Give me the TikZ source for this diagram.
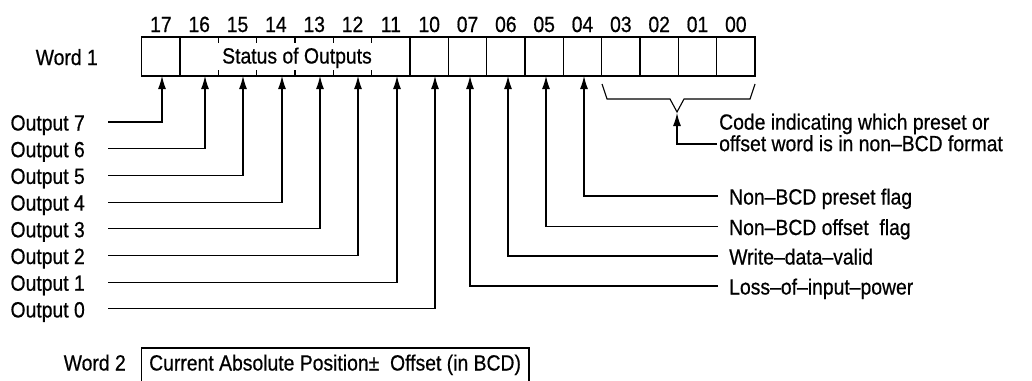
\documentclass[tikz,border=0pt]{standalone}
\usepackage{fontspec}
\setmainfont{Liberation Sans}[FakeStretch=0.88,FakeBold=0.6]
\usetikzlibrary{arrows.meta}

\tikzset{
  lbl/.style={inner sep=0pt, text height=17pt, text depth=0pt,
    font=\fontsize{22}{24}\selectfont},
  trait/.style={line width=1.1pt},
  fleche/.style={line width=1.1pt, -{Latex[length=13pt,width=8pt]}}
}

\begin{document}
\begin{tikzpicture}[x=1pt,y=-1pt]
\clip (0,0) rectangle (1032,380);

% Mot 1 : seize bits
\draw[trait] (141.7,37) rectangle (755,76);
\foreach \i in {1,7,8,...,15}
  \draw[trait] (141.7+38.33*\i,37) -- (141.7+38.33*\i,76);
\foreach \i in {2,...,6} {
  \draw[trait] (141.7+38.33*\i,37) -- ++(0,6);
  \draw[trait] (141.7+38.33*\i,76) -- ++(0,-6);
}
\foreach \n [count=\i from 0] in {17,16,15,14,13,12,11,10,07,06,05,04,03,02,01,00}
  \node[lbl] (n\n) at (141.7+38.33*\i+19.2,23.5) {\n};
\node[lbl,anchor=east] (mot1) at (98,56.5) {Word 1};
\node[lbl] (etat) at (297,55) {Status of Outputs};

% Points d'arrivee des fleches
\coordinate (b17) at (162,76);
\coordinate (b16) at (205,76);
\coordinate (b15) at (243,76);
\coordinate (b14) at (282,76);
\coordinate (b13) at (320,76);
\coordinate (b12) at (358,76);
\coordinate (b11) at (397,76);
\coordinate (b10) at (435,76);
\coordinate (b07) at (470,76);
\coordinate (b06) at (508,76);
\coordinate (b05) at (546,76);
\coordinate (b04) at (584,76);

% Sorties a gauche
\node[lbl,anchor=east,inner xsep=23pt] (o7) at (108,122) {Output 7};
\node[lbl,anchor=east,inner xsep=23pt] (o6) at (108,148.7) {Output 6};
\node[lbl,anchor=east,inner xsep=23pt] (o5) at (108,175.4) {Output 5};
\node[lbl,anchor=east,inner xsep=23pt] (o4) at (108,202.1) {Output 4};
\node[lbl,anchor=east,inner xsep=23pt] (o3) at (108,228.8) {Output 3};
\node[lbl,anchor=east,inner xsep=23pt] (o2) at (108,255.5) {Output 2};
\node[lbl,anchor=east,inner xsep=23pt] (o1) at (108,282.2) {Output 1};
\node[lbl,anchor=east,inner xsep=23pt] (o0) at (108,308.9) {Output 0};
\draw[fleche] (o7) -| (b17);
\draw[fleche] (o6) -| (b16);
\draw[fleche] (o5) -| (b15);
\draw[fleche] (o4) -| (b14);
\draw[fleche] (o3) -| (b13);
\draw[fleche] (o2) -| (b12);
\draw[fleche] (o1) -| (b11);
\draw[fleche] (o0) -| (b10);

% Drapeaux a droite
\node[lbl,anchor=west,inner xsep=11pt] (f04) at (718,196) {Non--BCD preset flag};
\node[lbl,anchor=west,inner xsep=11pt] (f05) at (718,226.5) {Non--BCD offset\ \ flag};
\node[lbl,anchor=west,inner xsep=11pt] (f06) at (718,256) {Write--data--valid};
\node[lbl,anchor=west,inner xsep=11pt] (f07) at (718,286) {Loss--of--input--power};
\draw[fleche] (f04) -| (b04);
\draw[fleche] (f05) -| (b05);
\draw[fleche] (f06) -| (b06);
\draw[fleche] (f07) -| (b07);

% Accolade des bits 03 a 00
\draw[trait] (602,84) -- (607,99) -- (670,99) -- (677,112) -- (684,99)
  -- (750,99) -- (755,84);
\coordinate (bt) at (677,113);
\node[anchor=north west,inner sep=0pt,align=left,
  font=\fontsize{22}{19.5}\selectfont] (code) at (719,113.5)
  {Code indicating which preset or\\offset word is in non--BCD format};
\coordinate (c0) at (717,144);
\draw[fleche] (c0) -| (bt);

% Mot 2
\draw[trait] (141.7,348) rectangle (529,400);
\node[lbl,anchor=east] (mot2) at (126,362) {Word 2};
\node[lbl,anchor=west] (position) at (149,362)
  {Current Absolute Position±\ \ Offset (in BCD)};
\end{tikzpicture}
\end{document}
